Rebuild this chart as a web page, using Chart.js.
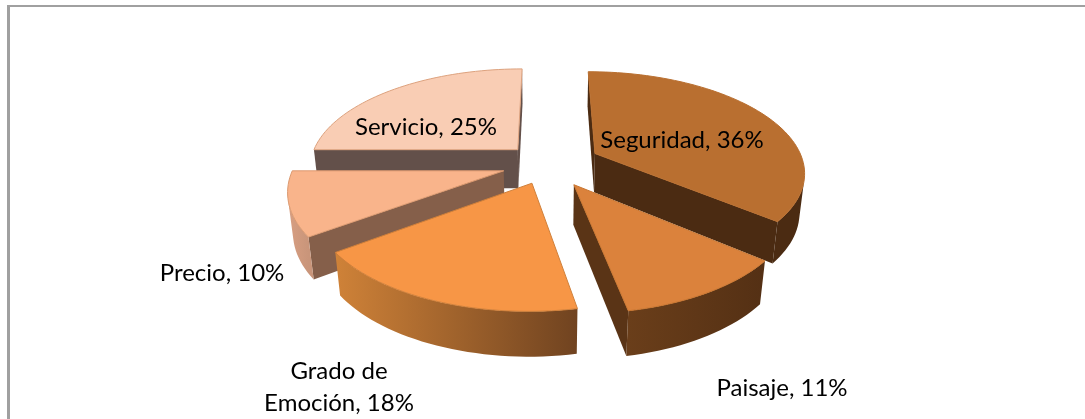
<!DOCTYPE html>
<html>
<head>
<meta charset="utf-8">
<title>Pie</title>
<script src="https://cdn.jsdelivr.net/npm/chart.js@4"></script>
<style>
  html, body { margin: 0; padding: 0; background: #fff; overflow: hidden; }
  #wrap { width: 1085px; height: 419px; }
</style>
</head>
<body>
<div id="wrap"><canvas id="pie3d"></canvas></div>
<script>
const categories = ['Seguridad', 'Paisaje', 'Grado de Emoción', 'Precio', 'Servicio'];
const shares = [36, 11, 18, 10, 25];

// slice colours
const topColors = ['#B96F30', '#DB823C', '#F79646', '#F9B48B', '#F9CDB4'];
const edgeColors = ['#B96F30', '#C8752F', '#D0803A', '#DC9A70', '#DDA27E'];
const sideColors = ['#4B2B12', '#5A3416', '#8A5526', '#855F4A', '#63504A'];
const wallLeft = ['#4B2B12', '#6A3E1A', '#CF8238', '#D89F82', '#D9B09A'];
const wallRight = ['#4B2B12', '#543014', '#704320', '#C9957A', '#D9B09A'];
const explode = [140, 130, 112, 122, 116];

// label text and where it sits
const labelLines = [['Seguridad, 36%'], ['Paisaje, 11%'], ['Grado de', 'Emoción, 18%'], ['Precio, 10%'], ['Servicio, 25%']];
const labelAt = [[682, 140], [782, 388], [339, 371], [222, 273], [426, 127]];

// fake 3d view of the pie plane
const view = { ox: 548, oy: 164, sx: 209, sy: 99, k: 0.17, depth: 40, shrink: 0.02 };

function project(u, v, z) {
    const w = 1 - view.k * v + view.shrink * z;
    return { x: view.ox + view.sx * u / w, y: view.oy + (view.sy * v + view.depth * z) / w };
}

function sliceOutline(arc, offset) {
    const r = arc.outerRadius;
    const mid = (arc.startAngle + arc.endAngle) / 2;
    const cu = Math.cos(mid) * (offset / 4) / r;
    const cv = Math.sin(mid) * (offset / 4) / r;
    const steps = Math.max(8, Math.round((arc.endAngle - arc.startAngle) * 30));
    const rim = [];
    for (let i = 0; i <= steps; i++) {
        const a = arc.startAngle + (arc.endAngle - arc.startAngle) * i / steps;
        rim.push({ u: cu + Math.cos(a), v: cv + Math.sin(a) });
    }
    return { apex: { u: cu, v: cv }, rim };
}

// true when the wall under the edge a-b faces us
function facesViewer(a, b) {
    const p = [project(a.u, a.v, 0), project(b.u, b.v, 0), project(b.u, b.v, 1), project(a.u, a.v, 1)];
    let area = 0;
    for (let i = 0; i < 4; i++) {
        const q = p[(i + 1) % 4];
        area += p[i].x * q.y - q.x * p[i].y;
    }
    return area < 0;
}

// one wall along a run of edge points
function fillWall(ctx, run, style) {
    ctx.beginPath();
    run.forEach((q, i) => {
        const p = project(q.u, q.v, 0);
        i ? ctx.lineTo(p.x, p.y) : ctx.moveTo(p.x, p.y);
    });
    [...run].reverse().forEach(q => {
        const p = project(q.u, q.v, 1);
        ctx.lineTo(p.x, p.y);
    });
    ctx.closePath();
    ctx.fillStyle = style;
    ctx.fill();
}

const pie3dPlugin = {
    id: 'pie3d',
    beforeDraw(chart) {
        const ctx = chart.ctx;
        ctx.save();
        ctx.fillStyle = '#fff';
        ctx.fillRect(0, 0, chart.width, chart.height);
        ctx.fillStyle = '#A0A0A0';
        ctx.fillRect(7, 5, chart.width - 7, 2);
        ctx.fillRect(7, 5, 3, chart.height - 5);
        ctx.restore();
    },
    // the arcs come from the library, they are only drawn through the view
    beforeDatasetDraw(chart, args) {
        const ctx = chart.ctx;
        const meta = args.meta;
        const order = meta.data.map((arc, i) => i)
            .sort((a, b) => {
                const mid = i => (meta.data[i].startAngle + meta.data[i].endAngle) / 2;
                return Math.sin(mid(a)) - Math.sin(mid(b));
            });
        ctx.save();
        ctx.lineJoin = 'round';
        order.forEach(i => {
            const arc = meta.data[i];
            const { apex, rim } = sliceOutline(arc, explode[i]);
            if (facesViewer(apex, rim[0])) fillWall(ctx, [apex, rim[0]], sideColors[i]);
            if (facesViewer(rim[rim.length - 1], apex)) fillWall(ctx, [rim[rim.length - 1], apex], sideColors[i]);

            const xs = rim.map(q => project(q.u, q.v, 0).x);
            const grad = ctx.createLinearGradient(Math.min(...xs), 0, Math.max(...xs), 0);
            grad.addColorStop(0, wallLeft[i]);
            grad.addColorStop(1, wallRight[i]);
            let run = [];
            for (let j = 0; j < rim.length - 1; j++) {
                if (facesViewer(rim[j], rim[j + 1])) {
                    if (!run.length) run.push(rim[j]);
                    run.push(rim[j + 1]);
                } else if (run.length) {
                    fillWall(ctx, run, grad);
                    run = [];
                }
            }
            if (run.length) fillWall(ctx, run, grad);

            ctx.beginPath();
            const a = project(apex.u, apex.v, 0);
            ctx.moveTo(a.x, a.y);
            rim.forEach(q => {
                const p = project(q.u, q.v, 0);
                ctx.lineTo(p.x, p.y);
            });
            ctx.closePath();
            ctx.fillStyle = topColors[i];
            ctx.strokeStyle = edgeColors[i];
            ctx.lineWidth = 1;
            ctx.fill();
            ctx.stroke();
        });
        ctx.restore();
        return false;
    },
    afterDatasetsDraw(chart) {
        const ctx = chart.ctx;
        ctx.save();
        ctx.font = '24px Lato, "Open Sans", sans-serif';
        ctx.fillStyle = '#000';
        ctx.textAlign = 'center';
        ctx.textBaseline = 'middle';
        labelLines.forEach((lines, i) => {
            lines.forEach((line, n) => ctx.fillText(line, labelAt[i][0], labelAt[i][1] + n * 32));
        });
        ctx.restore();
    }
};

new Chart(document.getElementById('pie3d'), {
    type: 'pie',
    data: {
        labels: categories,
        datasets: [{
            data: shares,
            backgroundColor: topColors,
            borderColor: edgeColors,
            offset: explode
        }]
    },
    options: {
        responsive: true,
        maintainAspectRatio: false,
        animation: false,
        plugins: {
            legend: { display: false },
            tooltip: { enabled: false }
        }
    },
    plugins: [pie3dPlugin]
});
</script>
</body>
</html>
